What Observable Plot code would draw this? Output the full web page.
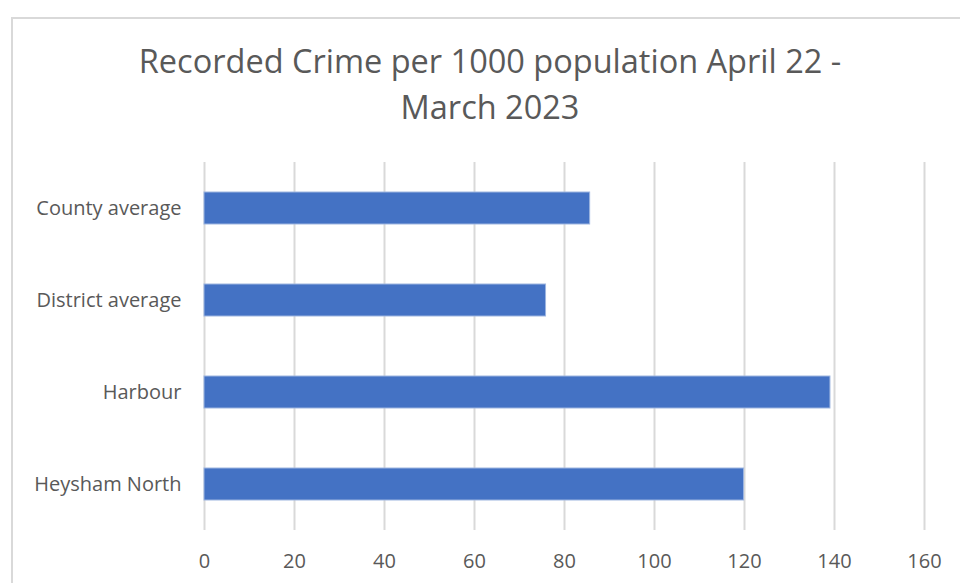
<!DOCTYPE html>
<html>
<head>
<meta charset="utf-8">
<script src="https://cdn.jsdelivr.net/npm/d3@7"></script>
<script src="https://cdn.jsdelivr.net/npm/@observablehq/plot@0.6"></script>
<style>
  html, body { margin: 0; padding: 0; background: #fff; }
  #wrap { position: relative; width: 960px; height: 583px; overflow: hidden; }
  #frame { position: absolute; left: 11px; top: 17px; width: 980px; height: 600px; border: 2px solid #d9d9d9; box-sizing: border-box; }
  #title { position: absolute; left: 0; top: 0; width: 980px; height: 140px; text-align: center;
           font-family: "Open Sans", sans-serif; font-size: 32.5px; color: #595959; line-height: 46px; padding-top: 38px; box-sizing: border-box; }
  #chart { position: absolute; left: 0; top: 140px; }
</style>
</head>
<body>
<div id="wrap">
  <div id="frame"></div>
  <div id="title">Recorded Crime per 1000 population April 22 -<br>March 2023</div>
  <div id="chart"></div>
</div>
<script>
const categories = ["County average", "District average", "Harbour", "Heysham North"];
const values = [85.7, 75.9, 139.1, 119.9];
const xTicks = [0, 20, 40, 60, 80, 100, 120, 140, 160];

const data = categories.map((c, i) => ({category: c, value: values[i]}));

const chart = Plot.plot({
  width: 960,
  height: 443,
  marginTop: 22,
  marginBottom: 53,
  marginLeft: 204,
  marginRight: 36,
  style: {fontFamily: "'Open Sans', sans-serif", fontSize: "20px", color: "#595959", background: "transparent"},
  x: {domain: [0, 160], ticks: xTicks, label: null},
  y: {domain: categories, paddingInner: 0.65, paddingOuter: 0.325, label: null},
  marks: [
    Plot.gridX(xTicks, {stroke: "#d9d9d9", strokeOpacity: 1, strokeWidth: 2}),
    Plot.barX(data, {x: "value", y: "category", fill: "#4472C4", stroke: "#9db5e0", strokeWidth: 1}),
    Plot.axisX({ticks: xTicks, tickSize: 0, tickPadding: 23, fill: "#595959", fontSize: 20}),
    Plot.axisY({tickSize: 0, tickPadding: 23, fill: "#595959", fontSize: 20})
  ]
});
document.getElementById("chart").appendChild(chart);
</script>
</body>
</html>
